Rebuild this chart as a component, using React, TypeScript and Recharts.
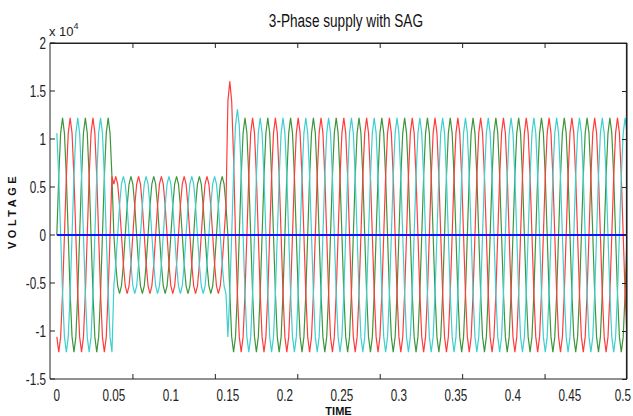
import React from 'react';
import { LineChart, Line, XAxis, YAxis, CartesianGrid } from 'recharts';

// 50 Hz supply, 25 cycles over 0..0.5 s, sampled every 30 degrees
const FREQ_HZ = 50;
const SAMPLES_PER_CYCLE = 12;
const CYCLES = 25;

// one cycle of the green phase, per unit, read at 30 degree steps
const unitCycle = [0, 0.5, 0.87, 1, 0.87, 0.5, 0, -0.5, -0.87, -1, -0.87, -0.5];

// sample offset of each phase against green (4 samples = 120 degrees)
const phaseOffsets: Record<string, number> = { green: 0, red: -4, cyan: 4 };

// peak voltage: normal supply, the sag, back to normal
const segmentStarts = [0, 0.05, 0.15];
const segmentPeaks = [12200, 6100, 12200];

// overshoot peaks when the sag clears (sample index of the peak)
const overshoots = [
  { phase: 'red', sample: 91, peak: 16000 },
  { phase: 'cyan', sample: 95, peak: 13100 },
];

const xTicks = [0, 0.05, 0.1, 0.15, 0.2, 0.25, 0.3, 0.35, 0.4, 0.45, 0.5];
const yTicks = [-15000, -10000, -5000, 0, 5000, 10000, 15000, 20000];
// the frame's tick marks sit on a 0..0.7 grid, not on the labels
const frameTicks = [0.1, 0.2, 0.3, 0.4, 0.5, 0.6];

const X_DOMAIN = [-0.006, 0.5];
const Y_DOMAIN = [-15000, 20000];

// plot box in the 633x416 picture
const PLOT = { left: 50, top: 43, width: 577, height: 336 };

const peakAt = (t: number) => {
  let p = segmentPeaks[0];
  segmentStarts.forEach((s, k) => {
    if (t >= s - 1e-9) p = segmentPeaks[k];
  });
  return p;
};

const sagEndSample = segmentStarts[2] * FREQ_HZ * SAMPLES_PER_CYCLE;

const phaseValue = (phase: string, i: number) => {
  const n = SAMPLES_PER_CYCLE;
  const idx = (((i + phaseOffsets[phase]) % n) + n) % n;
  let peak = peakAt(i / (FREQ_HZ * n));
  overshoots.forEach((o) => {
    if (o.phase === phase && Math.abs(i - o.sample) <= 2 && i >= sagEndSample) peak = o.peak;
  });
  return unitCycle[idx] * peak;
};

const data = Array.from({ length: CYCLES * SAMPLES_PER_CYCLE + 1 }, (_, i) => ({
  t: i / (FREQ_HZ * SAMPLES_PER_CYCLE),
  green: phaseValue('green', i),
  red: phaseValue('red', i),
  cyan: phaseValue('cyan', i),
  neutral: 0,
}));

const FONT = '"Liberation Sans", Arial, sans-serif';

// matlab-ish squeezed labels
const XTick = ({ x, y, payload }: any) => (
  <text transform={`translate(${x},${y}) scale(0.78,1.12)`} textAnchor="middle" dy="0.71em"
    fontSize={15} fill="#222" fontFamily={FONT}>
    {payload.value}
  </text>
);

const YTick = ({ x, y, payload }: any) => (
  <text transform={`translate(${x},${y}) scale(0.78,1.12)`} textAnchor="end" dy="0.36em"
    fontSize={15} fill="#222" fontFamily={FONT}>
    {String(payload.value / 10000)}
  </text>
);

// box frame with the small inward ticks on top, bottom and right
const Frame = () => {
  const { left, top, width, height } = PLOT;
  const yPos = (v: number) => top + ((Y_DOMAIN[1] - v) / (Y_DOMAIN[1] - Y_DOMAIN[0])) * height;
  return (
    <svg width={633} height={416} style={{ position: 'absolute', left: 0, top: 0, zIndex: 10, pointerEvents: 'none' }}>
      <line x1={left} x2={left + width} y1={top + 0.5} y2={top + 0.5} stroke="#222" strokeWidth={1.2} />
      <line x1={left + width - 0.5} x2={left + width - 0.5} y1={top} y2={top + height} stroke="#222" strokeWidth={1.2} />
      {frameTicks.map((f) => {
        const x = left + (f / 0.7) * width + 0.5;
        return (
          <g key={f}>
            <line x1={x} x2={x} y1={top} y2={top + 5} stroke="#222" />
            <line x1={x} x2={x} y1={top + height} y2={top + height - 5} stroke="#222" />
          </g>
        );
      })}
      {yTicks.map((v) => (
        <line key={v} x1={left + width - 5} x2={left + width} y1={yPos(v) + 0.5} y2={yPos(v) + 0.5} stroke="#222" />
      ))}
    </svg>
  );
};

const App: React.FC = () => {
  return (
    <div style={{ position: 'relative', width: 633, height: 416, background: '#fff' }}>
      <style>{'body{margin:0}'}</style>
      <div
        style={{
          position: 'absolute', left: 50, width: 577, top: 12, textAlign: 'center',
          fontFamily: FONT, fontSize: 16, color: '#111',
          transform: 'scale(0.85,1.1)', transformOrigin: '338px 0',
        }}
      >
        3-Phase supply with SAG
      </div>
      <div style={{ position: 'absolute', left: 49, top: 24, fontFamily: FONT, fontSize: 13, color: '#222' }}>
        x 10<sup style={{ fontSize: 9, verticalAlign: 'top', position: 'relative', top: -3 }}>4</sup>
      </div>
      <LineChart width={633} height={416} data={data}
        margin={{ top: PLOT.top, right: 633 - PLOT.left - PLOT.width, bottom: 0, left: 0 }}>
        <CartesianGrid
          xAxisId="t"
          yAxisId="v"
          stroke="#222"
          horizontalPoints={[PLOT.top]}
          verticalPoints={[PLOT.left + PLOT.width]}
        />
        <XAxis
          xAxisId="t"
          dataKey="t"
          type="number"
          domain={X_DOMAIN}
          allowDataOverflow
          ticks={xTicks}
          tickLine={false}
          tickMargin={4}
          axisLine={{ stroke: '#222' }}
          tick={<XTick />}
          height={416 - PLOT.top - PLOT.height}
          label={{ value: 'TIME', position: 'insideBottom', offset: 1, style: { fontSize: 11, fontWeight: 'bold', fill: '#111', fontFamily: FONT } }}
        />
        <YAxis
          yAxisId="v"
          type="number"
          domain={Y_DOMAIN}
          ticks={yTicks}
          tickSize={-5}
          tickMargin={9}
          axisLine={{ stroke: '#222' }}
          tickLine={{ stroke: '#222' }}
          tick={<YTick />}
          width={PLOT.left}
          label={{
            value: 'VOLTAGE', angle: -90, position: 'insideLeft', offset: 12,
            style: { fontSize: 11, fontWeight: 'bold', letterSpacing: 3.5, fill: '#111', fontFamily: FONT, textAnchor: 'middle' },
          }}
        />
        <Line xAxisId="t" yAxisId="v" dataKey="green" stroke="#3c963c" strokeWidth={1.2} dot={false} isAnimationActive={false} />
        <Line xAxisId="t" yAxisId="v" dataKey="red" stroke="#ff3c3c" strokeWidth={1.2} dot={false} isAnimationActive={false} />
        <Line xAxisId="t" yAxisId="v" dataKey="cyan" stroke="#3fcfcf" strokeWidth={1.2} dot={false} isAnimationActive={false} />
        <Line xAxisId="t" yAxisId="v" dataKey="neutral" stroke="#1010ff" strokeWidth={2} dot={false} isAnimationActive={false} />
      </LineChart>
      <Frame />
    </div>
  );
};

export default App;
